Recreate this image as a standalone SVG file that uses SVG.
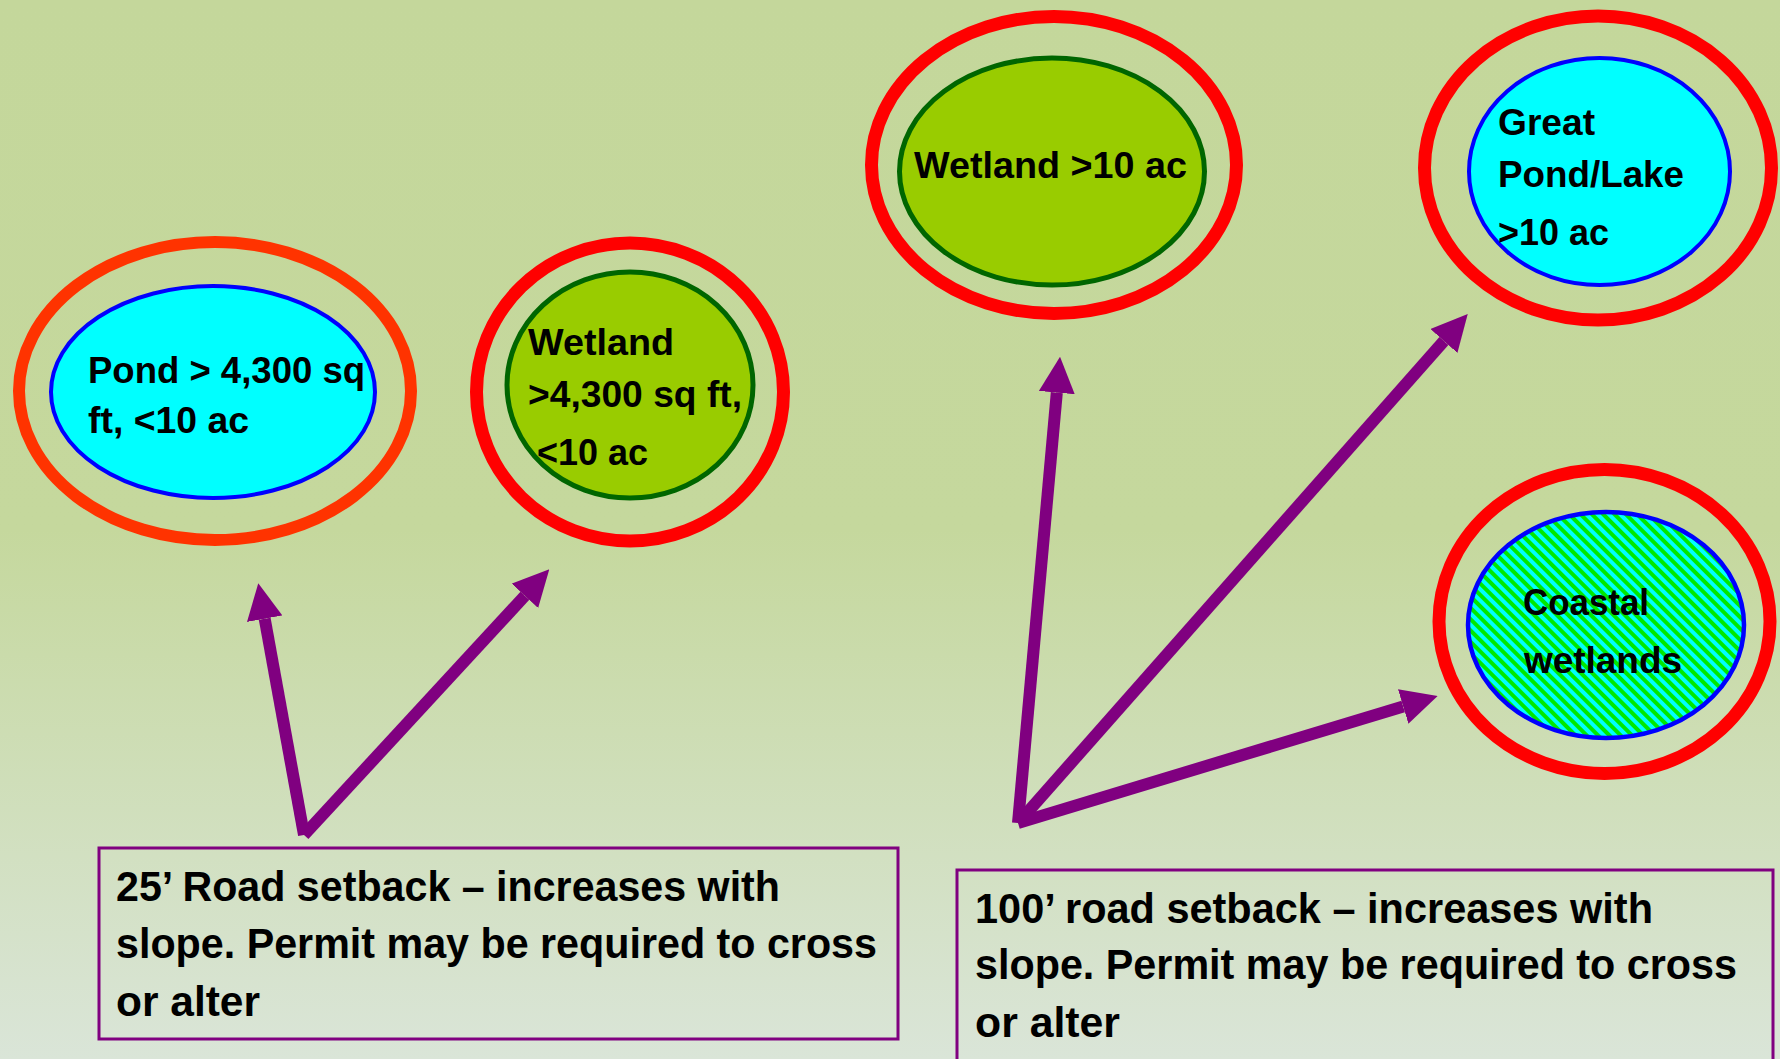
<svg xmlns="http://www.w3.org/2000/svg" width="1780" height="1059" viewBox="0 0 1780 1059">
<defs>
<linearGradient id="bg" x1="0" y1="0" x2="0" y2="1">
<stop offset="0" stop-color="#c4d79b"/>
<stop offset="0.5" stop-color="#c5d89d"/>
<stop offset="1" stop-color="#dae5d8"/>
</linearGradient>
<pattern id="hatch" patternUnits="userSpaceOnUse" width="8" height="8" patternTransform="rotate(-45)">
<rect width="8" height="8" fill="#00ffff"/>
<rect width="4" height="8" fill="#00e800"/>
</pattern>
<marker id="head" markerUnits="userSpaceOnUse" markerWidth="36" markerHeight="36" viewBox="0 0 36 36" refX="0" refY="18" orient="auto">
<path d="M0,0 L36,18 L0,36 z" fill="#800080"/>
</marker>
<style>
.ring{fill:none;stroke:#ff0000;stroke-width:13}
.t{font-family:"Liberation Sans",Arial,sans-serif;font-weight:bold;fill:#000}
.et{font-size:37.5px}
.bt{font-size:42px}
.box{fill:none;stroke:#800080;stroke-width:3}
.arrow{fill:none;stroke:#800080;stroke-width:12;marker-end:url(#head)}
</style>
</defs>
<rect width="1780" height="1059" fill="url(#bg)"/>
<g id="pond">
<ellipse class="ring" cx="215" cy="391" rx="196" ry="149" style="stroke:#ff3300;stroke-width:12"/>
<ellipse cx="213" cy="392" rx="162" ry="106" fill="#00ffff" stroke="#0000ff" stroke-width="4"/>
<text class="t et" x="88" y="383" textLength="277" lengthAdjust="spacingAndGlyphs">Pond &gt; 4,300 sq</text>
<text class="t et" x="88" y="433" textLength="161" lengthAdjust="spacingAndGlyphs">ft, &lt;10 ac</text>
</g>
<g id="wetland-small">
<ellipse class="ring" cx="630" cy="392" rx="153.5" ry="149"/>
<ellipse cx="630" cy="385" rx="123" ry="113" fill="#99cc00" stroke="#006600" stroke-width="5"/>
<text class="t et" x="528" y="355" textLength="146" lengthAdjust="spacingAndGlyphs">Wetland</text>
<text class="t et" x="528" y="407" textLength="214" lengthAdjust="spacingAndGlyphs">&gt;4,300 sq ft,</text>
<text class="t et" x="537" y="465" textLength="111" lengthAdjust="spacingAndGlyphs">&lt;10 ac</text>
</g>
<g id="wetland-large">
<ellipse class="ring" cx="1054" cy="165" rx="182.5" ry="148.5"/>
<ellipse cx="1052" cy="171.5" rx="152.5" ry="113.5" fill="#99cc00" stroke="#006600" stroke-width="5"/>
<text class="t et" x="914" y="178" textLength="273" lengthAdjust="spacingAndGlyphs">Wetland &gt;10 ac</text>
</g>
<g id="great-pond">
<ellipse class="ring" cx="1598" cy="168" rx="173.5" ry="152"/>
<ellipse cx="1599.5" cy="171.5" rx="130.5" ry="113.5" fill="#00ffff" stroke="#0000ff" stroke-width="4"/>
<text class="t et" x="1498" y="135" textLength="97" lengthAdjust="spacingAndGlyphs">Great</text>
<text class="t et" x="1498" y="187" textLength="186" lengthAdjust="spacingAndGlyphs">Pond/Lake</text>
<text class="t et" x="1498" y="245" textLength="111" lengthAdjust="spacingAndGlyphs">&gt;10 ac</text>
</g>
<g id="coastal">
<ellipse class="ring" cx="1604.5" cy="621.5" rx="165.5" ry="152"/>
<ellipse cx="1606" cy="625" rx="138" ry="113" fill="url(#hatch)" stroke="#0000ff" stroke-width="4.5"/>
<text class="t et" x="1523" y="615" textLength="126" lengthAdjust="spacingAndGlyphs">Coastal</text>
<text class="t et" x="1524" y="673" textLength="158" lengthAdjust="spacingAndGlyphs">wetlands</text>
</g>
<g id="box-25">
<rect class="box" x="99" y="848" width="799" height="191"/>
<text class="t bt" x="116" y="901" textLength="664" lengthAdjust="spacingAndGlyphs">25’ Road setback – increases with</text>
<text class="t bt" x="116" y="958" textLength="761" lengthAdjust="spacingAndGlyphs">slope. Permit may be required to cross</text>
<text class="t bt" x="116" y="1016" textLength="144" lengthAdjust="spacingAndGlyphs">or alter</text>
</g>
<g id="box-100">
<rect class="box" x="957" y="870" width="816" height="200"/>
<text class="t bt" x="975" y="923" textLength="678" lengthAdjust="spacingAndGlyphs">100’ road setback – increases with</text>
<text class="t bt" x="975" y="979" textLength="762" lengthAdjust="spacingAndGlyphs">slope. Permit may be required to cross</text>
<text class="t bt" x="975" y="1037" textLength="145" lengthAdjust="spacingAndGlyphs">or alter</text>
</g>
<g id="connectors">
<path class="arrow" d="M304,835 L264.7,618.7"/>
<path class="arrow" d="M304,835 L524.9,595.8"/>
<path class="arrow" d="M1018,823 L1056.8,392.6"/>
<path class="arrow" d="M1018,823 L1443.9,341"/>
<path class="arrow" d="M1018,823 L1403.2,706.4"/>
</g>
</svg>
